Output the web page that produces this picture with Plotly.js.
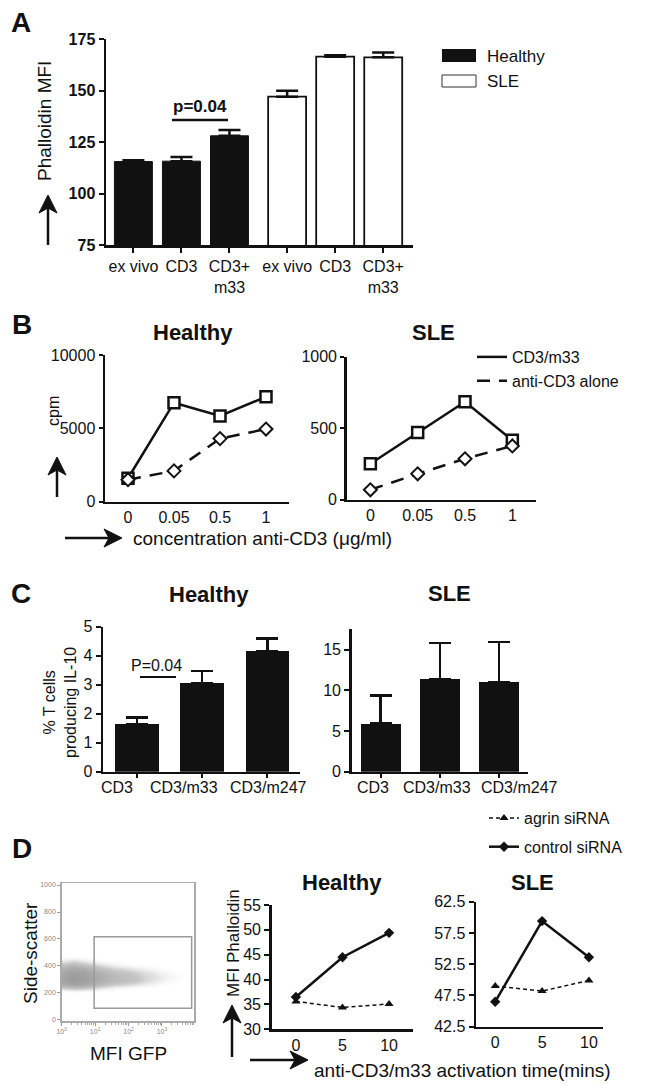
<!DOCTYPE html>
<html>
<head>
<meta charset="utf-8">
<script src="https://cdn.plot.ly/plotly-3.0.1.min.js"></script>
<style>html,body{margin:0;padding:0;background:#fff;}#chart{width:648px;height:1085px;}</style>
</head>
<body>
<div id="chart"></div>
<script>
// ---------- Panel A: Phalloidin MFI ----------
const aCategories = ['ex vivo', 'CD3', 'CD3+<br>m33'];
const aHealthyMean = [115.5, 115.7, 128.0];
const aHealthyErr = [0.6, 2.0, 2.8];
const aSleMean = [147.0, 166.4, 166.1];
const aSleErr = [2.9, 0.7, 2.4];

// ---------- Panel B: cpm vs anti-CD3 concentration ----------
const bConc = ['0', '0.05', '0.5', '1'];
const bHealthyCD3m33 = [1600, 6750, 5850, 7150];
const bHealthyCD3 = [1500, 2100, 4300, 4950];
const bSleCD3m33 = [250, 470, 685, 415];
const bSleCD3 = [68, 180, 285, 375];

// ---------- Panel C: % T cells producing IL-10 ----------
const cCategories = ['CD3', 'CD3/m33', 'CD3/m247'];
const cHealthyMean = [1.65, 3.05, 4.15];
const cHealthyErr = [0.22, 0.42, 0.45];
const cSleMean = [5.9, 11.35, 11.05];
const cSleErr = [3.45, 4.45, 4.9];

// ---------- Panel D: MFI Phalloidin vs time ----------
const dTime = ['0', '5', '10'];
const dHealthyAgrin = [35.6, 34.4, 35.1];
const dHealthyControl = [36.5, 44.5, 49.4];
const dSleAgrin = [49.0, 48.2, 49.9];
const dSleControl = [46.5, 59.4, 53.6];

// ---------- Panel D: flow cytometry (density) ----------
const flowLogGfp = [0.05, 0.35, 0.65, 0.95, 1.25, 1.55, 1.85, 2.15, 2.45, 2.75, 3.05, 3.35, 3.65, 3.9];
const flowSsc = [200, 230, 260, 290, 320, 350, 380, 410, 440, 470, 500];
const flowDensity = [
  [0.00, 0.05, 0.05, 0.02, 0.00, 0.00, 0.00, 0.00, 0.00, 0.00, 0.00, 0.00, 0.00, 0],
  [0.45, 0.55, 0.50, 0.40, 0.30, 0.20, 0.15, 0.10, 0.06, 0.03, 0.00, 0.00, 0.00, 0],
  [0.80, 0.90, 0.85, 0.75, 0.60, 0.50, 0.45, 0.38, 0.30, 0.22, 0.12, 0.06, 0.02, 0],
  [0.90, 1.00, 0.95, 0.85, 0.75, 0.65, 0.60, 0.55, 0.45, 0.35, 0.25, 0.15, 0.06, 0],
  [0.90, 1.00, 0.95, 0.85, 0.75, 0.65, 0.60, 0.55, 0.45, 0.38, 0.28, 0.18, 0.08, 0],
  [0.85, 0.95, 0.90, 0.80, 0.70, 0.60, 0.55, 0.48, 0.40, 0.32, 0.22, 0.14, 0.06, 0],
  [0.75, 0.85, 0.80, 0.65, 0.55, 0.45, 0.40, 0.32, 0.25, 0.18, 0.10, 0.05, 0.02, 0],
  [0.55, 0.65, 0.55, 0.45, 0.35, 0.25, 0.18, 0.12, 0.08, 0.04, 0.00, 0.00, 0.00, 0],
  [0.30, 0.40, 0.30, 0.20, 0.12, 0.06, 0.03, 0.00, 0.00, 0.00, 0.00, 0.00, 0.00, 0],
  [0.08, 0.12, 0.08, 0.04, 0.00, 0.00, 0.00, 0.00, 0.00, 0.00, 0.00, 0.00, 0.00, 0],
  [0.00, 0.00, 0.00, 0.00, 0.00, 0.00, 0.00, 0.00, 0.00, 0.00, 0.00, 0.00, 0.00, 0]
];
const gateLogGfp = [0.97, 3.89];
const gateSsc = [86, 617];
const flowDecades = [0, 1, 2, 3];
const flowSscTicks = [0, 200, 400, 600, 800, 1000];

// ---------- helpers ----------
const W = 648, H = 1085;
const FONT = 'Liberation Sans, Arial, Helvetica, sans-serif';
const dx = (a, b) => [a / W, b / W];
const dy = (t, b) => [1 - b / H, 1 - t / H];
const px = v => v / W;
const py = v => 1 - v / H;

function axis(extra) {
  return Object.assign({
    showline: true, linewidth: 2.5, linecolor: '#111',
    ticks: 'outside', ticklen: 5, tickwidth: 2, tickcolor: '#111',
    showgrid: false, zeroline: false, fixedrange: true, tickangle: 0,
    tickfont: {family: FONT, size: 16, color: '#111'}
  }, extra);
}

const aGroupGap = 3.2;
const aXHealthy = aCategories.map((c, i) => i);
const aXSle = aCategories.map((c, i) => i + aGroupGap);

const traces = [];
// A bars
traces.push({
  type: 'bar', x: aXHealthy, y: aHealthyMean, width: 0.79, xaxis: 'x', yaxis: 'y',
  marker: {color: '#111', line: {color: '#111', width: 1}}, showlegend: false,
  error_y: {type: 'data', symmetric: false, array: aHealthyErr, arrayminus: aHealthyErr.map(() => 0), color: '#111', thickness: 2.5, width: 11}
});
traces.push({
  type: 'bar', x: aXSle, y: aSleMean, width: 0.79, xaxis: 'x', yaxis: 'y',
  marker: {color: '#fff', line: {color: '#111', width: 1.8}}, showlegend: false,
  error_y: {type: 'data', symmetric: false, array: aSleErr, arrayminus: aSleErr.map(() => 0), color: '#111', thickness: 2.5, width: 11}
});

// B lines (legend from healthy line-only traces)
function bTraces(xa, ya, m33, cd3, legend) {
  traces.push({type: 'scatter', mode: 'lines', x: bConc, y: m33, xaxis: xa, yaxis: ya,
    line: {color: '#111', width: 2.5}, name: 'CD3/m33', showlegend: legend, legend: 'legend2'});
  traces.push({type: 'scatter', mode: 'lines', x: bConc, y: cd3, xaxis: xa, yaxis: ya,
    line: {color: '#111', width: 2.5, dash: '13px,9px'}, name: 'anti-CD3 alone', showlegend: legend, legend: 'legend2'});
  traces.push({type: 'scatter', mode: 'markers', x: bConc, y: m33, xaxis: xa, yaxis: ya, showlegend: false,
    marker: {symbol: 'square', size: 11, color: '#fff', line: {color: '#111', width: 2.5}}, cliponaxis: false});
  traces.push({type: 'scatter', mode: 'markers', x: bConc, y: cd3, xaxis: xa, yaxis: ya, showlegend: false,
    marker: {symbol: 'diamond', size: 10, color: '#fff', line: {color: '#111', width: 2}}, cliponaxis: false});
}
bTraces('x2', 'y2', bHealthyCD3m33, bHealthyCD3, true);
bTraces('x3', 'y3', bSleCD3m33, bSleCD3, false);

// C bars
function cBar(xa, ya, mean, err) {
  traces.push({type: 'bar', x: cCategories, y: mean, width: 0.67, xaxis: xa, yaxis: ya,
    marker: {color: '#111'}, showlegend: false,
    error_y: {type: 'data', symmetric: false, array: err, arrayminus: err.map(() => 0), color: '#111', thickness: 2.5, width: 11}});
}
cBar('x4', 'y4', cHealthyMean, cHealthyErr);
cBar('x5', 'y5', cSleMean, cSleErr);

// D flow heatmap
traces.push({type: 'heatmap', x: flowLogGfp, y: flowSsc, z: flowDensity, xaxis: 'x6', yaxis: 'y6',
  zsmooth: 'best', showscale: false, zmin: 0, zmax: 1, hoverinfo: 'skip',
  colorscale: [[0, 'rgba(255,255,255,0)'], [0.5, 'rgba(200,200,200,1)'], [1, 'rgba(155,155,155,1)']]});

// D lines
function dTraces(xa, ya, agrin, control, legend) {
  traces.push({type: 'scatter', mode: 'lines+markers', x: dTime, y: agrin, xaxis: xa, yaxis: ya,
    name: 'agrin siRNA', showlegend: legend, legend: 'legend3', legendgroup: 'agrin',
    line: {color: '#111', width: 1.5, dash: '4px,3px'}, marker: {symbol: 'triangle-up', size: 8, color: '#111'}, cliponaxis: false});
  traces.push({type: 'scatter', mode: 'lines+markers', x: dTime, y: control, xaxis: xa, yaxis: ya,
    name: 'control siRNA', showlegend: legend, legend: 'legend3', legendgroup: 'control',
    line: {color: '#111', width: 2.5}, marker: {symbol: 'diamond', size: 8, color: '#111'}, cliponaxis: false});
}
dTraces('x7', 'y7', dHealthyAgrin, dHealthyControl, true);
dTraces('x8', 'y8', dSleAgrin, dSleControl, false);

// ---------- annotations ----------
const annotations = [];
function ann(text, x, y, size, opts) {
  opts = opts || {};
  annotations.push({
    text: text, xref: 'paper', yref: 'paper', x: px(x), y: py(y),
    xanchor: opts.anchor || 'center', yanchor: 'middle', showarrow: false,
    textangle: opts.rot ? -90 : 0,
    font: {family: FONT, size: size, color: '#111', weight: opts.bold ? 'bold' : 'normal'}
  });
}
ann('A', 21, 23, 28, {bold: true});
ann('Phalloidin MFI', 45, 121, 19, {rot: true});
ann('p=0.04', 200, 107, 17, {bold: true});
ann('Healthy', 485, 56, 17, {anchor: 'left'});
ann('SLE', 485, 81, 17, {anchor: 'left'});

ann('B', 22, 325, 28, {bold: true});
ann('Healthy', 193, 332, 22, {bold: true});
ann('SLE', 433, 332, 22, {bold: true});
ann('cpm', 54, 411, 16, {rot: true});
ann('concentration anti-CD3 (\u03bcg/ml)', 131, 538, 19, {anchor: 'left'});

ann('C', 21, 593, 28, {bold: true});
ann('Healthy', 209, 594, 22, {bold: true});
ann('SLE', 449, 593, 22, {bold: true});
ann('% T cells<br>producing IL-10', 60, 703, 16, {rot: true});
ann('P=0.04', 156, 665, 16);

// C category labels, placed under their ticks with the reference's small offsets (category units)
const cLabelShiftHealthy = [-0.31, -0.28, 0.02];
const cLabelShiftSle = [-0.13, -0.05, 0.35];
cCategories.forEach((c, i) => {
  annotations.push({text: c, xref: 'x4', yref: 'paper', x: i + cLabelShiftHealthy[i], y: py(787),
    xanchor: 'center', yanchor: 'middle', showarrow: false, font: {family: FONT, size: 16, color: '#111'}});
  annotations.push({text: c, xref: 'x5', yref: 'paper', x: i + cLabelShiftSle[i], y: py(787),
    xanchor: 'center', yanchor: 'middle', showarrow: false, font: {family: FONT, size: 16, color: '#111'}});
});

ann('D', 22, 848, 28, {bold: true});
ann('Healthy', 342, 882, 22, {bold: true});
ann('SLE', 532, 882, 22, {bold: true});
ann('MFI Phalloidin', 233, 943, 17, {rot: true});
ann('anti-CD3/m33 activation time(mins)', 312, 1070, 19, {anchor: 'left'});
ann('Side-scatter', 30, 953, 19, {rot: true});
ann('MFI GFP', 128, 1053, 19);

// ---------- shapes ----------
const shapes = [
  {type: 'rect', xref: 'paper', yref: 'paper', x0: px(442), x1: px(476), y0: py(62), y1: py(49), fillcolor: '#111', line: {width: 0}},
  {type: 'rect', xref: 'paper', yref: 'paper', x0: px(442), x1: px(476), y0: py(87), y1: py(75), fillcolor: '#fff', line: {color: '#333', width: 1}},
  {type: 'line', xref: 'paper', yref: 'paper', x0: px(172), x1: px(228), y0: py(120), y1: py(120), line: {color: '#111', width: 2.5}},
  {type: 'line', xref: 'paper', yref: 'paper', x0: px(140), x1: px(176), y0: py(677), y1: py(677), line: {color: '#111', width: 2}},
  {type: 'rect', xref: 'x6', yref: 'y6', x0: gateLogGfp[0], x1: gateLogGfp[1], y0: gateSsc[0], y1: gateSsc[1], line: {color: '#999', width: 1.5}, layer: 'above'}
];
// axis-direction arrows drawn as shapes (pixel positions converted to paper)
function arrowShape(x0, y0, x1, y1) {
  const len = Math.hypot(x1 - x0, y1 - y0);
  const ux = (x1 - x0) / len, uy = (y1 - y0) / len;
  const nx = -uy, ny = ux;
  const L = 18, hw = 9, notch = 5;
  const bx = x1 - L * ux, by = y1 - L * uy;
  const kx = x1 - (L - notch) * ux, ky = y1 - (L - notch) * uy;
  const P = (x, y) => px(x) + ',' + py(y);
  shapes.push({type: 'line', xref: 'paper', yref: 'paper', x0: px(x0), y0: py(y0), x1: px(kx), y1: py(ky), line: {color: '#111', width: 2.5}});
  shapes.push({type: 'path', xref: 'paper', yref: 'paper',
    path: 'M' + P(x1, y1) + 'L' + P(bx + hw * nx, by + hw * ny) + 'L' + P(kx, ky) + 'L' + P(bx - hw * nx, by - hw * ny) + 'Z',
    fillcolor: '#111', line: {color: '#111', width: 1}});
}
arrowShape(48, 245, 48, 195);
arrowShape(57, 497, 57, 457);
arrowShape(65, 538, 122, 538);
arrowShape(232, 1057, 232, 1005);
arrowShape(250, 1060, 308, 1060);

// minor ticks for log decades on the flow axis
const flowMinor = [];
flowDecades.forEach(d => { for (let k = 2; k <= 9; k++) flowMinor.push(d + Math.log10(k)); });

const flowAxis = {
  showline: true, mirror: true, linewidth: 1.5, linecolor: '#aaa', showgrid: false, zeroline: false,
  ticks: 'outside', ticklen: 3, tickwidth: 1, tickcolor: '#999', fixedrange: true, tickangle: 0,
  tickfont: {family: FONT, size: 7, color: '#888'}
};

const layout = {
  width: W, height: H, margin: {l: 0, r: 0, t: 0, b: 0},
  paper_bgcolor: '#fff', plot_bgcolor: 'rgba(0,0,0,0)',
  font: {family: FONT, color: '#111'},
  showlegend: true,
  legend2: {x: px(472), y: py(340), xanchor: 'left', yanchor: 'top', bgcolor: 'rgba(0,0,0,0)',
    font: {family: FONT, size: 16, color: '#111'}, tracegroupgap: 0},
  legend3: {x: px(484), y: py(801), xanchor: 'left', yanchor: 'top', bgcolor: 'rgba(0,0,0,0)',
    font: {family: FONT, size: 16, color: '#111'}, tracegroupgap: 5},
  xaxis: axis({domain: dx(106, 413), anchor: 'y', range: [-0.57, 5.82],
    tickvals: aXHealthy.concat(aXSle), ticktext: aCategories.concat(aCategories)}),
  yaxis: axis({domain: dy(39, 245), anchor: 'x', range: [75, 175], tickvals: [75, 100, 125, 150, 175],
    tickfont: {family: FONT, size: 16, color: '#111', weight: 'bold'}}),
  xaxis2: axis({domain: dx(105, 289), anchor: 'y2', type: 'category', range: [-0.5, 3.5], ticks: ''}),
  yaxis2: axis({domain: dy(355, 501.7), anchor: 'x2', range: [0, 10000], tickvals: [0, 5000, 10000], ticktext: ['0', '5000', '10000'], ticklen: 4}),
  xaxis3: axis({domain: dx(346.7, 536), anchor: 'y3', type: 'category', range: [-0.5, 3.5], ticks: ''}),
  yaxis3: axis({domain: dy(356.7, 499.5), anchor: 'x3', range: [0, 1000], tickvals: [0, 500, 1000], ticktext: ['0', '500', '1000'], ticklen: 4}),
  xaxis4: axis({domain: dx(103, 300), anchor: 'y4', type: 'category', range: [-0.52, 2.5], ticklen: 4, showticklabels: false}),
  yaxis4: axis({domain: dy(626.7, 771.7), anchor: 'x4', range: [0, 5], dtick: 1, tick0: 0}),
  xaxis5: axis({domain: dx(351.7, 528), anchor: 'y5', type: 'category', range: [-0.49, 2.49], ticklen: 4, showticklabels: false}),
  yaxis5: axis({domain: dy(629.3, 771.7), anchor: 'x5', range: [0, 17.5], tickvals: [0, 5, 10, 15]}),
  xaxis6: Object.assign({}, flowAxis, {domain: dx(61.7, 194), anchor: 'y6', range: [0, 3.96],
    tickvals: flowDecades, ticktext: flowDecades.map(d => '10<sup>' + d + '</sup>'),
    minor: {tickmode: 'array', tickvals: flowMinor, ticks: 'outside', ticklen: 2, tickcolor: '#aaa'}}),
  yaxis6: Object.assign({}, flowAxis, {domain: dy(883, 1021), anchor: 'x6', range: [-8, 1015], tickvals: flowSscTicks}),
  xaxis7: axis({domain: dx(271.7, 413.3), anchor: 'y7', type: 'category', range: [-0.52, 2.52], ticks: ''}),
  yaxis7: axis({domain: dy(905, 1029.3), anchor: 'x7', range: [30, 55], dtick: 5, tick0: 30}),
  xaxis8: axis({domain: dx(476, 603), anchor: 'y8', type: 'category', range: [-0.41, 2.3], ticks: ''}),
  yaxis8: axis({domain: dy(901.7, 1026.7), anchor: 'x8', range: [42.5, 62.5], dtick: 5, tick0: 42.5}),
  annotations: annotations,
  shapes: shapes,
  bargap: 0
};

Plotly.newPlot('chart', traces, layout, {staticPlot: true, displayModeBar: false});
</script>
</body>
</html>
